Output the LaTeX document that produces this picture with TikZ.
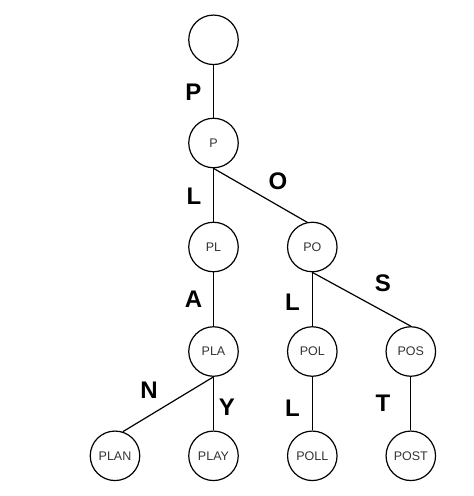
\documentclass[tikz,border=0pt]{standalone}
\usepackage{fontspec}
\setmainfont{Liberation Sans}
\definecolor{nodetext}{HTML}{333333}

\tikzset{
    trienode/.style={circle, draw, line width=1.2pt, minimum size=49.5pt, inner sep=0pt,
        text=nodetext, font=\fontsize{12.5}{14}\selectfont},
    letter/.style={font=\fontsize{24}{26}\selectfont\bfseries, inner sep=0pt},
    trieedge/.style={line width=1.2pt}
}

\begin{document}
\begin{tikzpicture}[x=1pt, y=-1pt]
        \useasboundingbox (0,0) rectangle (474,496);

        % nodes of the trie
        \foreach \n/\x/\y/\t in {root/213.5/39.8/{}, p/213.5/143/P,
                pl/213.5/247/PL, po/312.3/247/PO,
                pla/213.5/351.5/PLA, pol/312.3/351.5/POL, pos/410.8/351.5/POS,
                plan/115/455.8/PLAN, play/213.5/455.8/PLAY, poll/312.3/455.8/POLL, post/410.8/455.8/POST}
            \node[trienode] (\n) at (\x,\y) {\t};

        % edges
        \draw[trieedge] (root.south) -- (p.north);
        \draw[trieedge] (p.south) -- (pl.north);
        \draw[trieedge] (p.south) -- (po.102);
        \draw[trieedge] (pl.south) -- (pla.north);
        \draw[trieedge] (po.south) -- (pol.north);
        \draw[trieedge] (po.south) -- (pos.north);
        \draw[trieedge] (pla.south) -- (plan.72);
        \draw[trieedge] (pla.south) -- (play.north);
        \draw[trieedge] (pol.south) -- (poll.north);
        \draw[trieedge] (pos.south) -- (post.north);

        % edge letters
        \foreach \n/\x/\y/\t in {lp/193.5/92.7/P, lpl/194/196/L, lpo/278/181.5/O,
                lpla/193.5/299/A, lpol/292.5/302/L, lpos/383/283/S,
                lplan/149/390.5/N, lplay/227/407/Y, lpoll/292.5/408/L, lpost/383/403.5/T}
            \node[letter] (\n) at (\x,\y) {\t};
    \end{tikzpicture}
\end{document}
